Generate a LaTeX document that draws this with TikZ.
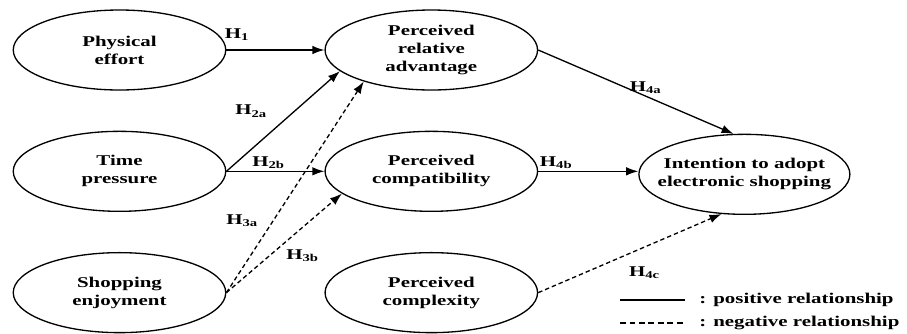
\documentclass[tikz,border=0pt]{standalone}
\usepackage{fontspec}
\setmainfont{Liberation Serif}[FakeStretch=1.4]
\usetikzlibrary{arrows.meta,positioning,shapes.geometric}
\tikzset{
    shopconstruct/.style={ellipse, draw, line width=0.75pt, minimum width=4.25cm, minimum height=1.6cm, inner sep=0pt},
    shoptext/.style={align=center, font=\fontsize{8.5}{10.2}\selectfont\bfseries, inner sep=0pt},
    shopplus/.style={-{Latex[length=2.4mm,width=1.7mm]}, line width=0.75pt},
    shopdash/.style={line width=0.75pt, dash pattern=on 3.2pt off 2.2pt},
    shopminus/.style={shopplus, dash pattern=on 2.5pt off 1.7pt},
    shophyp/.style={font=\fontsize{8.5}{10.2}\selectfont\bfseries, inner sep=1pt},
    shopnote/.style={font=\fontsize{8.5}{10.2}\selectfont\bfseries, anchor=west, inner sep=0pt}
}

\begin{document}
\begin{tikzpicture}[node distance=0.8cm and 1.96cm]
    \useasboundingbox (0,0) rectangle (18.14,-6.66);
    \node[shopconstruct, label={[shoptext]center:{Physical\\effort}}] (effort) at (2.39,-1.0) {};
    \node[shopconstruct, below=of effort, label={[shoptext]center:{Time\\pressure}}] (pressure) {};
    \node[shopconstruct, below=of pressure, label={[shoptext]center:{Shopping\\enjoyment}}] (enjoy) {};
    \node[shopconstruct, right=of effort, label={[shoptext]center:{Perceived\\relative\\advantage}}] (advantage) {};
    \node[shopconstruct, right=of pressure, label={[shoptext]center:{Perceived\\compatibility}}] (compat) {};
    \node[shopconstruct, right=of enjoy, label={[shoptext]center:{Perceived\\complexity}}] (complex) {};
    \node[shopconstruct, right=2.0cm of compat, yshift=-0.06cm, minimum width=4.22cm, label={[shoptext]center:{Intention to adopt\\electronic shopping}}] (intent) {};

    \draw[shopplus] (effort) -- node[shophyp, pos=0.11, above=0.15cm] {H\textsubscript{1}} (advantage);
    \draw[shopplus] (pressure.east) -- node[shophyp, pos=0.6, left=0.5cm] {H\textsubscript{2a}} (advantage.193);
    \draw[shopplus] (pressure.east) -- node[shophyp, pos=0.43, above] {H\textsubscript{2b}} (compat.west);
    \draw[shopminus] (enjoy.east) -- node[shophyp, pos=0.34, left=0.25cm] {H\textsubscript{3a}} (advantage.205);
    \draw[shopminus] (enjoy.east) -- node[shophyp, pos=0.66, below=0.4cm] {H\textsubscript{3b}} (compat.194);
    \draw[shopplus] (advantage.east) -- node[shophyp, pos=0.55, above] {H\textsubscript{4a}} (intent.105);
    \draw[shopplus] (compat.east) -- node[shophyp, pos=0.18, above] {H\textsubscript{4b}} (compat.east -| intent.west);
    \draw[shopminus] (complex.east) -- node[shophyp, pos=0.58, below=0.35cm] {H\textsubscript{4c}} (intent.240);

    % legend
    \node[shopnote] (posnote) at (13.98,-6.0) {: positive relationship};
    \node[shopnote] (negnote) at (13.98,-6.46) {: negative relationship};
    \coordinate (posstart) at (12.4,-6.0);
    \coordinate (posend) at (13.7,-6.0);
    \coordinate (negstart) at (12.4,-6.46);
    \coordinate (negend) at (13.7,-6.46);
    \draw[line width=0.75pt] (posstart) -- (posend);
    \draw[shopdash] (negstart) -- (negend);
\end{tikzpicture}
\end{document}
